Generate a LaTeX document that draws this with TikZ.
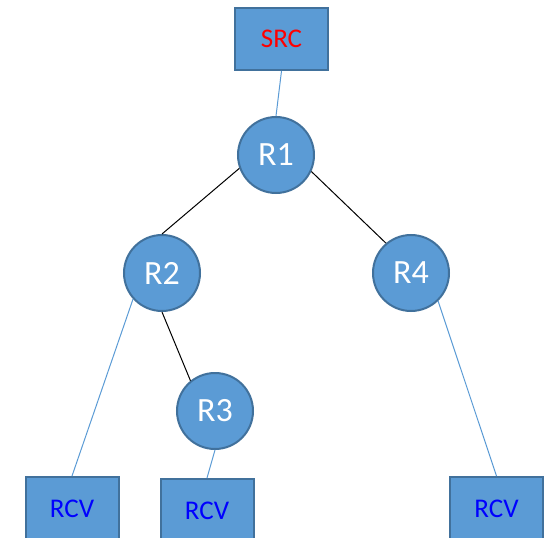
\documentclass[tikz,border=0pt]{standalone}
\usepackage{fontspec}
\setmainfont{Carlito}
\definecolor{nodefill}{HTML}{5B9BD5}
\definecolor{nodeborder}{HTML}{41719C}
\begin{document}
\begin{tikzpicture}[x=1pt,y=-1pt,
  router/.style={circle,fill=nodefill,draw=nodeborder,line width=2pt,minimum size=76pt,inner sep=0pt,text=white,font=\fontsize{34}{34}\selectfont},
  hostbox/.style={rectangle,fill=nodefill,draw=nodeborder,line width=2pt,minimum width=93pt,minimum height=62pt,inner sep=0pt,font=\fontsize{27}{27}\selectfont},
  tree/.style={black,line width=1pt},
  leaf/.style={nodefill,line width=1pt}]
\useasboundingbox (0,0) rectangle (550,538);
\node[hostbox,text=red] (SRC) at (281.5,39) {SRC};
\node[router] (R1) at (276,155) {R1};
\node[router] (R2) at (162,273) {R2};
\node[router] (R4) at (411,273) {R4};
\node[router] (R3) at (215,411) {R3};
\node[hostbox,text=blue,minimum height=64pt] (RCV1) at (72,509) {RCV};
\node[hostbox,text=blue,minimum height=64pt] (RCV2) at (207,511) {RCV};
\node[hostbox,text=blue,minimum height=64pt] (RCV3) at (496.5,509) {RCV};
\draw[leaf] (SRC.south) -- (R1.north);
\draw[tree] (R1.200) -- (R2.north);
\draw[tree] (R1.-25) -- (R4.130);
\draw[tree] (R2.south) -- (R3.129);
\draw[leaf] (R2.222) -- (RCV1.north);
\draw[leaf] (R3.south) -- (RCV2.north);
\draw[leaf] (R4.-46) -- (RCV3.north);
\end{tikzpicture}
\end{document}
